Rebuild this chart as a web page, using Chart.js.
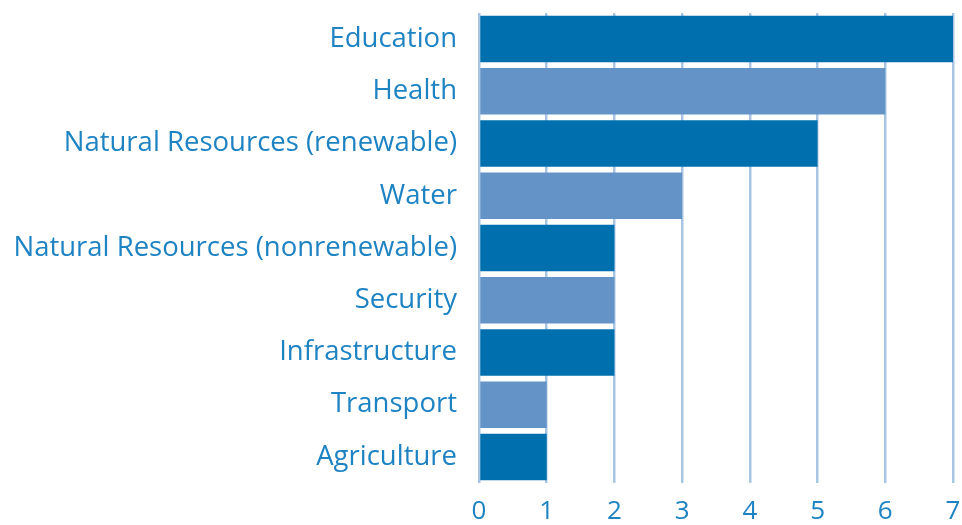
<!DOCTYPE html>
<html>
<head>
<meta charset="utf-8">
<script src="https://cdn.jsdelivr.net/npm/chart.js@4"></script>
<style>
  html, body { margin: 0; padding: 0; background: #fff; }
  #wrap { width: 962px; height: 525px; }
</style>
</head>
<body>
<div id="wrap"><canvas id="chart" width="962" height="525"></canvas></div>
<script>
// --- data ---
const categories = [
    'Education', 'Health', 'Natural Resources (renewable)', 'Water',
    'Natural Resources (nonrenewable)', 'Security', 'Infrastructure',
    'Transport', 'Agriculture'
];
const counts = [7, 6, 5, 3, 2, 2, 2, 1, 1];
const xTicks = [0, 1, 2, 3, 4, 5, 6, 7];

const dark = '#006fae';
const light = '#6494c7';
const labelColor = '#1e83c3';

const barColors = counts.map((v, i) => i % 2 === 0 ? dark : light);

const ctx = document.getElementById('chart').getContext('2d');
new Chart(ctx, {
    type: 'bar',
    data: {
        labels: categories,
        datasets: [{
            data: counts,
            backgroundColor: barColors,
            borderWidth: 0,
            barPercentage: 0.89,
            categoryPercentage: 1
        }]
    },
    options: {
        indexAxis: 'y',
        responsive: false,
        animation: false,
        layout: { padding: { top: 13, right: 9, left: 0, bottom: 0 } },
        plugins: { legend: { display: false }, tooltip: { enabled: false } },
        scales: {
            x: {
                min: 0,
                max: 7,
                afterBuildTicks: (scale) => { scale.ticks = xTicks.map(v => ({ value: v })); },
                grid: { color: '#a9c5e4', lineWidth: 2.5, drawTicks: false },
                border: { display: false },
                ticks: { color: labelColor, padding: 13, font: { family: 'Open Sans', size: 26 } },
                afterFit: (scale) => {
                    scale.height = 42;
                    scale.paddingLeft = 0;
                    scale.paddingRight = 0;
                }
            },
            y: {
                grid: { display: false },
                border: { display: false },
                ticks: { color: labelColor, padding: 14, font: { family: 'Open Sans', size: 27.5 } },
                afterFit: (scale) => {
                    scale.width = 479;
                    scale.paddingTop = 0;
                    scale.paddingBottom = 0;
                }
            }
        }
    }
});
</script>
</body>
</html>
